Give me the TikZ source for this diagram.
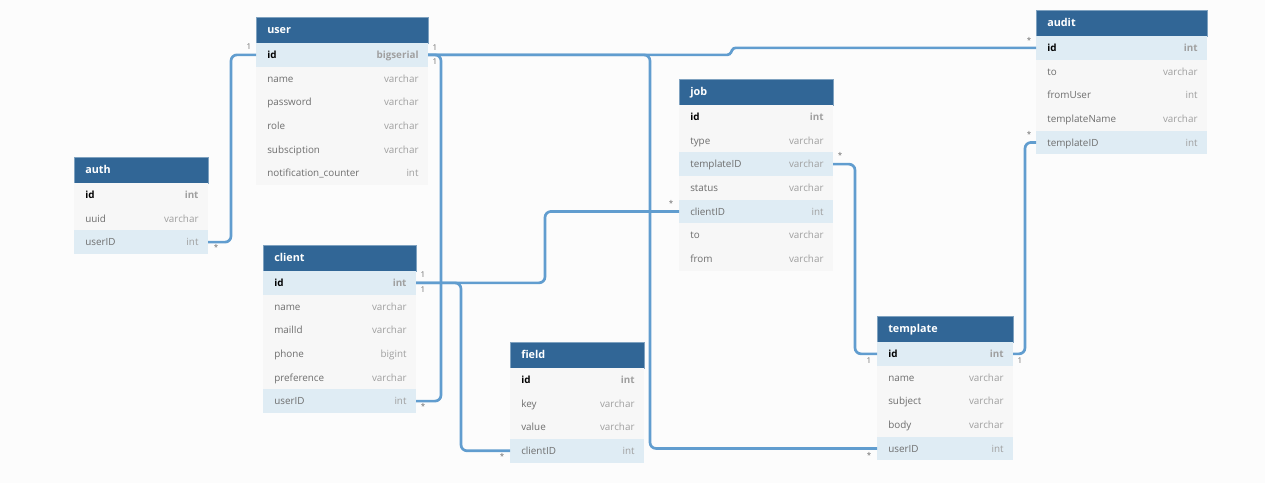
\documentclass[tikz,border=0pt]{standalone}
\usepackage{fontspec}
\setmainfont{Open Sans}
\definecolor{pagebg}{HTML}{FCFCFC}
\definecolor{headblue}{HTML}{316696}
\definecolor{headline}{HTML}{7FA2C0}
\definecolor{rowgray}{HTML}{F7F7F7}
\definecolor{rowblue}{HTML}{DFECF4}
\definecolor{linkblue}{HTML}{619DCF}
\definecolor{fieldgray}{HTML}{6E6E6E}
\definecolor{typegray}{HTML}{A0A0A0}
\tikzset{
  headbox/.style={draw=headline,line width=0.5pt,fill=headblue,inner sep=0pt,outer sep=0pt,minimum height=19.5pt},
  rowplain/.style={fill=rowgray,inner sep=0pt,outer sep=0pt,minimum height=17.8pt},
  rowkey/.style={fill=rowblue,inner sep=0pt,outer sep=0pt,minimum height=17.8pt},
  titletext/.style={font=\fontsize{8.1}{10}\selectfont\bfseries,text=white,anchor=mid west,inner sep=0pt,xshift=8.25pt},
  fieldtext/.style={font=\fontsize{7.4}{10}\selectfont,text=fieldgray,anchor=mid west,inner sep=0pt,xshift=8.25pt},
  typetext/.style={font=\fontsize{7.4}{10}\selectfont,text=typegray,anchor=mid east,inner sep=0pt,xshift=-6.9pt},
  link/.style={draw=linkblue,line width=2pt,rounded corners=4.5pt},
  card/.style={font=\fontsize{6}{7}\selectfont,text=fieldgray,inner sep=0pt}
}
\newcommand{\dbtable}[5]{
  \node[headbox,minimum width=#4*0.75pt] (#1) at (#2+#4/2,#3+13) {};
  \node[titletext] (#1-title) at (#1.west) {#1};
  \foreach \f/\t/\s [count=\i] in {#5} {
    \node[\s,minimum width=#4*0.75pt] (#1-\i) at (#2+#4/2,#3+26+23.65*\i-11.8) {};
    \node[fieldtext] (#1-\i-f) at (#1-\i.west) {\ifnum\i=1 \bfseries\color{black}\fi\f};
    \node[typetext] (#1-\i-t) at (#1-\i.east) {\ifnum\i=1 \bfseries\fi\t};
  }
}
\begin{document}
\begin{tikzpicture}[x=0.75pt,y=-0.75pt]
  \fill[pagebg] (0,0) rectangle (1265,483);
  \useasboundingbox (0,0) rectangle (1265,483);
  \dbtable{auth}{74}{157}{134}{id/int/rowplain,uuid/varchar/rowplain,userID/int/rowkey}
  \dbtable{user}{256}{17}{172}{id/bigserial/rowkey,name/varchar/rowplain,password/varchar/rowplain,role/varchar/rowplain,subsciption/varchar/rowplain,notification\_counter/int/rowplain}
  \dbtable{client}{263}{245}{153}{id/int/rowkey,name/varchar/rowplain,mailId/varchar/rowplain,phone/bigint/rowplain,preference/varchar/rowplain,userID/int/rowkey}
  \dbtable{field}{510}{342}{134}{id/int/rowplain,key/varchar/rowplain,value/varchar/rowplain,clientID/int/rowkey}
  \dbtable{job}{679}{79}{154}{id/int/rowplain,type/varchar/rowplain,templateID/varchar/rowkey,status/varchar/rowplain,clientID/int/rowkey,to/varchar/rowplain,from/varchar/rowplain}
  \dbtable{audit}{1036}{10}{171}{id/int/rowkey,to/varchar/rowplain,fromUser/int/rowplain,templateName/varchar/rowplain,templateID/int/rowkey}
  \dbtable{template}{877}{316}{136}{id/int/rowkey,name/varchar/rowplain,subject/varchar/rowplain,body/varchar/rowplain,userID/int/rowkey}
  \draw[link] (auth-3.east) -- ++(23,0) |- (user-1.west);
  \draw[link] (user-1.east) -- ++(13,0) |- (client-6.east);
  \draw[link] (user-1.east) -| (650,250) |- (template-5.west);
  \draw[link,rounded corners=2pt] (user-1.east) -- ++(302,0) -- ++(3,-7) -- (audit-1.west);
  \draw[link] (client-1.east) -- ++(129,0) |- (job-5.west);
  \draw[link] (client-1.east) -- ++(45,0) |- (field-4.west);
  \draw[link] (job-3.east) -- ++(22,0) |- (template-1.west);
  \draw[link] (template-1.east) -- ++(12,0) |- (audit-5.west);
  \foreach \n/\x/\y/\t in {a/249/47/1,b/216/247/*,c/435/48/1,d/435/62/1,e/423/406/*,f/423/275/1,g/423/290/1,h/502/456/*,k/671/203/*,l/840/155/*,m/1029/40/*,n/1029/134/*,o/869/361/1,p/1020/361/1,q/869/455/*} {
    \node[card] (card-\n) at (\x,\y) {\t};
  }
\end{tikzpicture}
\end{document}
